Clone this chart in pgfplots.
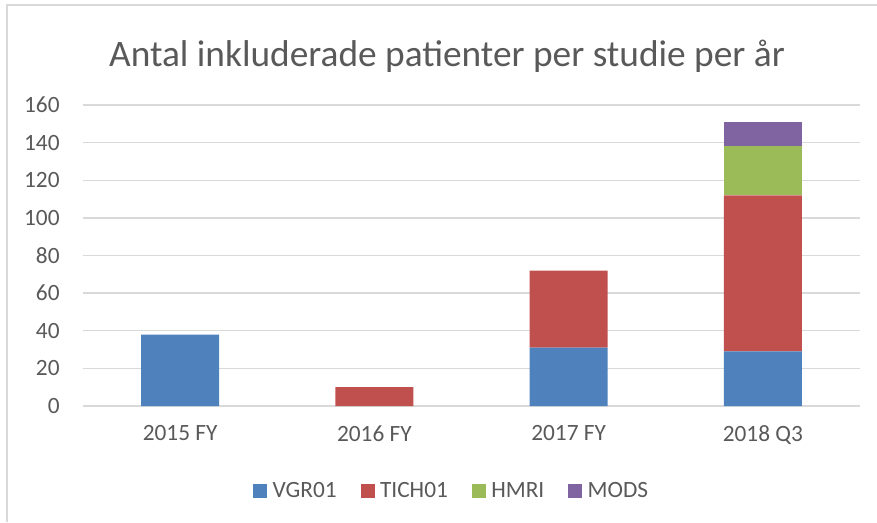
\documentclass[border=0pt]{standalone}
\usepackage{pgfplots}
\pgfplotsset{compat=1.18}
\usepackage{fontspec}
\setmainfont{Carlito}
\definecolor{cblue}{HTML}{4F81BD}
\definecolor{cred}{HTML}{C0504D}
\definecolor{cgreen}{HTML}{9BBB59}
\definecolor{cpurple}{HTML}{8064A2}
\definecolor{ctext}{HTML}{595959}
\definecolor{cgrid}{HTML}{D9D9D9}
\begin{document}
\begin{tikzpicture}
\useasboundingbox (0pt,0pt) rectangle (657.75pt,391.5pt);
\draw[cgrid, line width=1.5pt] (4.9pt,0pt) -- (4.9pt,387.4pt) -- (657.75pt,387.4pt);
\node[text=ctext, font=\fontsize{28}{32}\selectfont] at (335.25pt,349.5pt) {Antal inkluderade patienter per studie per år};
\begin{axis}[
  at={(62.25pt,87pt)}, anchor=south west,
  scale only axis, width=582.75pt, height=225.75pt,
  ybar stacked, bar width=58.5pt,
  xmin=-0.5, xmax=3.5, ymin=0, ymax=160,
  xtick=data, xticklabels={2015 FY,2016 FY,2017 FY,2018 Q3},
  ytick={0,20,...,160},
  axis line style={draw=none},
  major tick length=0pt,
  ymajorgrids, grid style={cgrid, line width=1.1pt},
  tick label style={text=ctext, font=\fontsize{17.5}{20}\selectfont},
  /pgf/number format/assume math mode=true,
  yticklabel style={xshift=-14pt},
  xticklabel style={yshift=-11pt},
  legend columns=4,
  legend style={at={(0.475,-0.283)}, anchor=center, draw=none, fill=none,
    font=\fontsize{17.5}{20}\selectfont, text=ctext,
    /tikz/every odd column/.append style={column sep=2pt},
    /tikz/every even column/.append style={column sep=16pt}},
  legend image code/.code={\fill[#1] (0pt,-5.25pt) rectangle (10.5pt,5.25pt);},
]
\addplot[fill=cblue, draw=none] coordinates {(0,38) (1,0) (2,31) (3,29)};
\addplot[fill=cred, draw=none] coordinates {(0,0) (1,10) (2,41) (3,83)};
\addplot[fill=cgreen, draw=none] coordinates {(0,0) (1,0) (2,0) (3,26)};
\addplot[fill=cpurple, draw=none] coordinates {(0,0) (1,0) (2,0) (3,13)};
\legend{VGR01,TICH01,HMRI,MODS}
\end{axis}
\end{tikzpicture}
\end{document}
